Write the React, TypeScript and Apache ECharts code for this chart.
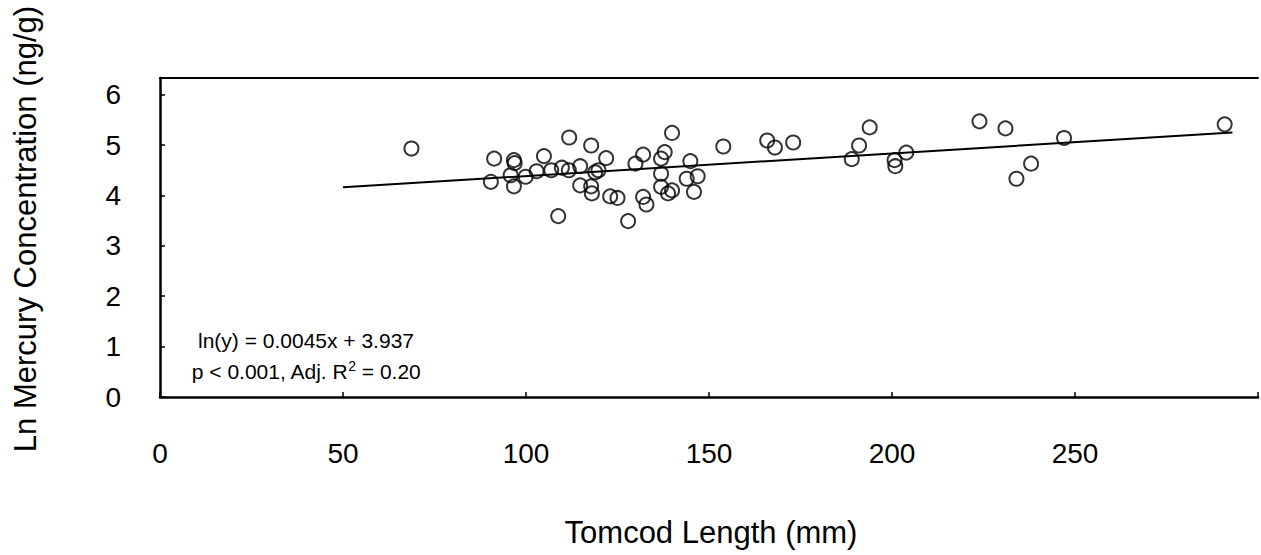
import React, { useEffect, useRef } from "react";
import * as echarts from "echarts";

// Tomcod length (mm) and ln mercury concentration (ng/g)
const lengthMm: number[] = [
  68.7, 91.3, 90.4, 96.7, 96.9, 95.8, 96.7, 99.9, 102.9, 104.9,
  106.9, 108.8, 109.8, 111.8, 111.7, 114.8, 114.8, 117.8, 117.8, 118.0,
  118.9, 119.8, 121.9, 123.0, 125.0, 127.9, 129.9, 132.0, 132.0, 132.9,
  136.9, 136.9, 136.9, 137.9, 138.8, 139.9, 139.9, 143.9, 144.9, 145.9,
  146.9, 153.9, 165.9, 168.0, 173.0, 189.0, 191.0, 193.9, 200.7, 200.9,
  203.9, 223.9, 231.0, 247.0, 238.0, 234.0, 290.9,
];
const lnMercury: number[] = [
  4.93, 4.73, 4.27, 4.70, 4.64, 4.40, 4.18, 4.37, 4.48, 4.78,
  4.50, 3.59, 4.55, 5.15, 4.50, 4.58, 4.20, 4.99, 4.18, 4.04,
  4.46, 4.50, 4.74, 3.98, 3.95, 3.49, 4.63, 4.81, 3.97, 3.82,
  4.73, 4.43, 4.17, 4.86, 4.04, 5.24, 4.10, 4.33, 4.68, 4.07,
  4.38, 4.97, 5.09, 4.95, 5.05, 4.72, 4.99, 5.35, 4.70, 4.58,
  4.85, 5.47, 5.33, 5.14, 4.63, 4.33, 5.41,
];

// Fitted line ln(y) = 0.0045x + 3.937, end points as drawn
const fitX: number[] = [50, 293];
const fitY: number[] = [4.16, 5.25];

const xTicks: number[] = [0, 50, 100, 150, 200, 250];
const yTicks: number[] = [0, 1, 2, 3, 4, 5, 6];

const FONT = "'Liberation Sans', Arial, Helvetica, sans-serif";

export default function App() {
  const ref = useRef<HTMLDivElement>(null);

  useEffect(() => {
    if (!ref.current) return;
    const chart = echarts.init(ref.current, undefined, { renderer: "svg" });

    const points = lengthMm.map((x, i) => [x, lnMercury[i]]);
    const fit = fitX.map((x, i) => [x, fitY[i]]);

    chart.setOption({
      animation: false,
      backgroundColor: "#ffffff",
      grid: { left: 160, right: -5, top: 78, bottom: 158, containLabel: false },
      xAxis: [
        {
          type: "value",
          min: 0,
          max: 300,
          interval: 50,
          position: "bottom",
          axisLine: { show: true, onZero: false, lineStyle: { color: "#000", width: 2.5 } },
          axisTick: { show: true, inside: true, length: 5, lineStyle: { color: "#000", width: 1.5 } },
          axisLabel: {
            show: true,
            margin: 42,
            fontSize: 28,
            fontFamily: FONT,
            color: "#000",
            formatter: (v: number) => (xTicks.includes(v) ? String(v) : ""),
          },
          splitLine: { show: false },
        },
        {
          type: "value",
          min: 0,
          max: 300,
          interval: 50,
          position: "top",
          axisLine: { show: true, onZero: false, lineStyle: { color: "#000", width: 2 } },
          axisTick: { show: false },
          axisLabel: { show: false },
          splitLine: { show: false },
        },
      ],
      yAxis: {
        type: "value",
        min: 0,
        max: 6.33,
        interval: 1,
        axisLine: { show: true, onZero: false, lineStyle: { color: "#000", width: 2.5 } },
        axisTick: { show: true, inside: true, length: 5, lineStyle: { color: "#000", width: 1.5 } },
        axisLabel: {
          margin: 39,
          fontSize: 28,
          fontFamily: FONT,
          color: "#000",
          formatter: (v: number) => (yTicks.includes(v) ? String(v) : ""),
        },
        splitLine: { show: false },
      },
      series: [
        {
          type: "line",
          data: fit,
          showSymbol: false,
          symbol: "none",
          lineStyle: { color: "#000", width: 2 },
          z: 2,
        },
        {
          type: "scatter",
          data: points,
          symbol: "circle",
          symbolSize: 14,
          itemStyle: { color: "rgba(255,255,255,0)", borderColor: "#000", borderWidth: 2 },
          z: 3,
        },
      ],
      graphic: [
        {
          type: "text",
          x: 306,
          y: 340,
          style: {
            text: "ln(y) = 0.0045x + 3.937",
            fontSize: 21,
            fontFamily: FONT,
            fill: "#000",
            align: "center",
            verticalAlign: "middle",
          },
        },
        {
          type: "text",
          x: 306,
          y: 371,
          style: {
            text: "{a|p < 0.001, Adj. R}{s|2}{a| = 0.20}",
            fontSize: 21,
            fontFamily: FONT,
            fill: "#000",
            align: "center",
            verticalAlign: "middle",
            rich: {
              a: { fontSize: 21, fontFamily: FONT, fill: "#000", lineHeight: 24 },
              s: { fontSize: 14, fontFamily: FONT, fill: "#000", lineHeight: 24, verticalAlign: "top", padding: [0, 0, 10, 0] },
            },
          },
        },
        {
          type: "text",
          x: 711,
          y: 532,
          style: {
            text: "Tomcod Length (mm)",
            fontSize: 31,
            fontFamily: FONT,
            fill: "#000",
            align: "center",
            verticalAlign: "middle",
          },
        },
        {
          type: "text",
          x: 25,
          y: 229,
          rotation: Math.PI / 2,
          style: {
            text: "Ln Mercury Concentration (ng/g)",
            fontSize: 31,
            fontFamily: FONT,
            fill: "#000",
            align: "center",
            verticalAlign: "middle",
          },
        },
      ],
    });

    return () => chart.dispose();
  }, []);

  return (
    <div
      ref={ref}
      style={{ position: "fixed", left: 0, top: 0, width: 1261, height: 555, background: "#fff" }}
    />
  );
}
